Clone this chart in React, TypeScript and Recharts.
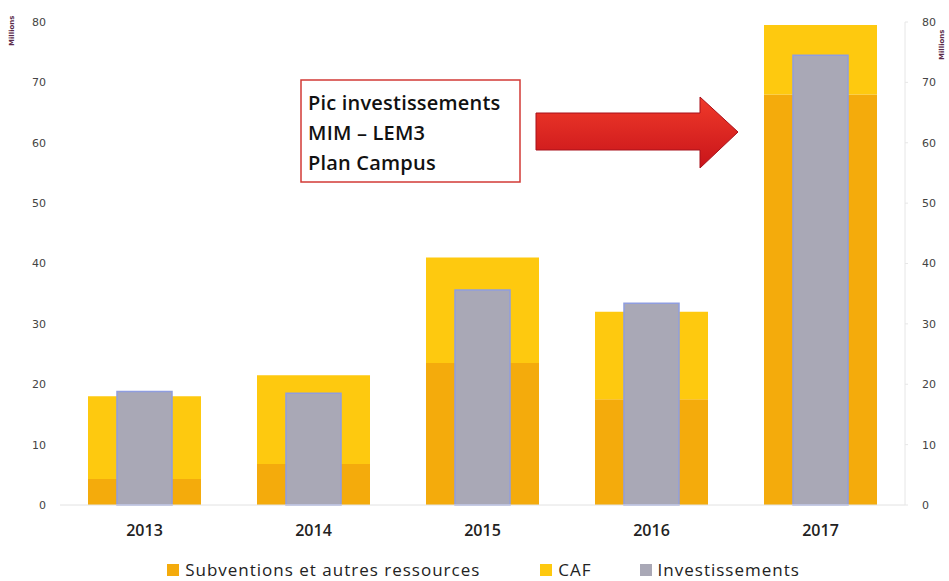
import {
  Bar,
  ComposedChart,
  XAxis,
  YAxis,
} from "recharts";

const years = ["2013", "2014", "2015", "2016", "2017"];
const subventions = [4.3, 6.8, 23.5, 17.5, 68];
const caf = [13.7, 14.7, 17.5, 14.5, 11.5];
const investissements = [18.8, 18.5, 35.6, 33.4, 74.5];
const yTicks = [0, 10, 20, 30, 40, 50, 60, 70, 80];
const annotationLines = ["Pic investissements", "MIM – LEM3", "Plan Campus"];

const data = years.map((year, i) => ({
  year,
  subventions: subventions[i],
  caf: caf[i],
  investissements: investissements[i],
}));

const ORANGE = "#f4ab0c";
const YELLOW = "#fec90f";
const GREY = "#a9a8b6";

const legendItems = [
  { label: "Subventions et autres ressources", color: ORANGE, gapAfter: 60 },
  { label: "CAF", color: YELLOW, gapAfter: 48 },
  { label: "Investissements", color: GREY, gapAfter: 0 },
];

function ChartLegend() {
  return (
    <div
      style={{
        position: "absolute",
        left: 0,
        top: 558,
        width: 949,
        display: "flex",
        justifyContent: "center",
        fontFamily: "'Open Sans', sans-serif",
        fontSize: 17,
        lineHeight: "24px",
        letterSpacing: 1,
        color: "#222",
        paddingLeft: 18,
        boxSizing: "border-box",
      }}
    >
      {legendItems.map((item) => (
        <span
          key={item.label}
          style={{
            display: "flex",
            alignItems: "center",
            gap: 6,
            marginRight: item.gapAfter,
          }}
        >
          <span
            style={{
              width: 12,
              height: 12,
              background: item.color,
              display: "inline-block",
            }}
          />
          {item.label}
        </span>
      ))}
    </div>
  );
}

const tickStyle = {
  fontFamily: "'DejaVu Sans', sans-serif",
  fontSize: 11,
  fill: "#444",
};

export default function App() {
  return (
    <div
      style={{
        position: "absolute",
        left: 0,
        top: 0,
        width: 949,
        height: 581,
        background: "#fff",
      }}
    >
      <ComposedChart
        width={949}
        height={581}
        data={data}
        margin={{ top: 22, right: 14, bottom: 36, left: 20 }}
      >
        <XAxis
          xAxisId="stack"
          dataKey="year"
          axisLine={{ stroke: "#e2e2e2" }}
          tickLine={false}
          height={40}
          tick={{
            fontFamily: "'Open Sans', sans-serif",
            fontSize: 16,
            fontWeight: 600,
            fill: "#222",
          }}
          tickMargin={14}
        />
        <XAxis xAxisId="inv" dataKey="year" hide height={0} />
        <YAxis
          yAxisId="left"
          domain={[0, 80]}
          ticks={yTicks}
          axisLine={false}
          tickLine={false}
          width={40}
          tick={tickStyle}
          tickMargin={8}
        />
        <YAxis
          yAxisId="right"
          orientation="right"
          domain={[0, 80]}
          ticks={yTicks}
          axisLine={{ stroke: "#e6e6e6" }}
          tickLine={{ stroke: "#e6e6e6" }}
          tickSize={3}
          width={30}
          tick={tickStyle}
          tickMargin={14}
        />
        <Bar
          xAxisId="stack"
          yAxisId="left"
          dataKey="subventions"
          name="Subventions et autres ressources"
          stackId="res"
          fill={ORANGE}
          barSize={113}
          isAnimationActive={false}
        />
        <Bar
          xAxisId="stack"
          yAxisId="left"
          dataKey="caf"
          name="CAF"
          stackId="res"
          fill={YELLOW}
          barSize={113}
          isAnimationActive={false}
        />
        <Bar
          xAxisId="inv"
          yAxisId="right"
          dataKey="investissements"
          name="Investissements"
          fill={GREY}
          stroke="#8f9de0"
          strokeWidth={1.5}
          barSize={55}
          isAnimationActive={false}
        />
      </ComposedChart>

      <ChartLegend />

      <svg
        width={949}
        height={581}
        style={{ position: "absolute", left: 0, top: 0, pointerEvents: "none" }}
      >
        <defs>
          <linearGradient id="arrowFill" x1="0" y1="0" x2="0" y2="1">
            <stop offset="0%" stopColor="#f03a2a" />
            <stop offset="100%" stopColor="#c8141a" />
          </linearGradient>
        </defs>
        <text
          transform="translate(14, 46) rotate(-90)"
          fontFamily="'DejaVu Sans', sans-serif"
          fontSize={7}
          fontWeight="bold"
          fill="#5a2a4a"
        >
          Millions
        </text>
        <text
          transform="translate(944, 60) rotate(-90)"
          fontFamily="'DejaVu Sans', sans-serif"
          fontSize={7}
          fontWeight="bold"
          fill="#5a2a4a"
        >
          Millions
        </text>
        <rect
          x={301}
          y={80}
          width={219}
          height={102}
          fill="#fff"
          stroke="#d23a36"
          strokeWidth={1.5}
        />
        {annotationLines.map((line, i) => (
          <text
            key={line}
            x={308}
            y={110 + i * 30}
            fontFamily="'Open Sans', sans-serif"
            fontSize={20}
            fontWeight={600}
            letterSpacing={0.2}
            fill="#111"
          >
            {line}
          </text>
        ))}
        <path
          d="M536 113 L700 113 L700 97 L738 132 L700 168 L700 150 L536 150 Z"
          fill="url(#arrowFill)"
          stroke="#a8101a"
          strokeWidth={1}
        />
      </svg>
    </div>
  );
}
